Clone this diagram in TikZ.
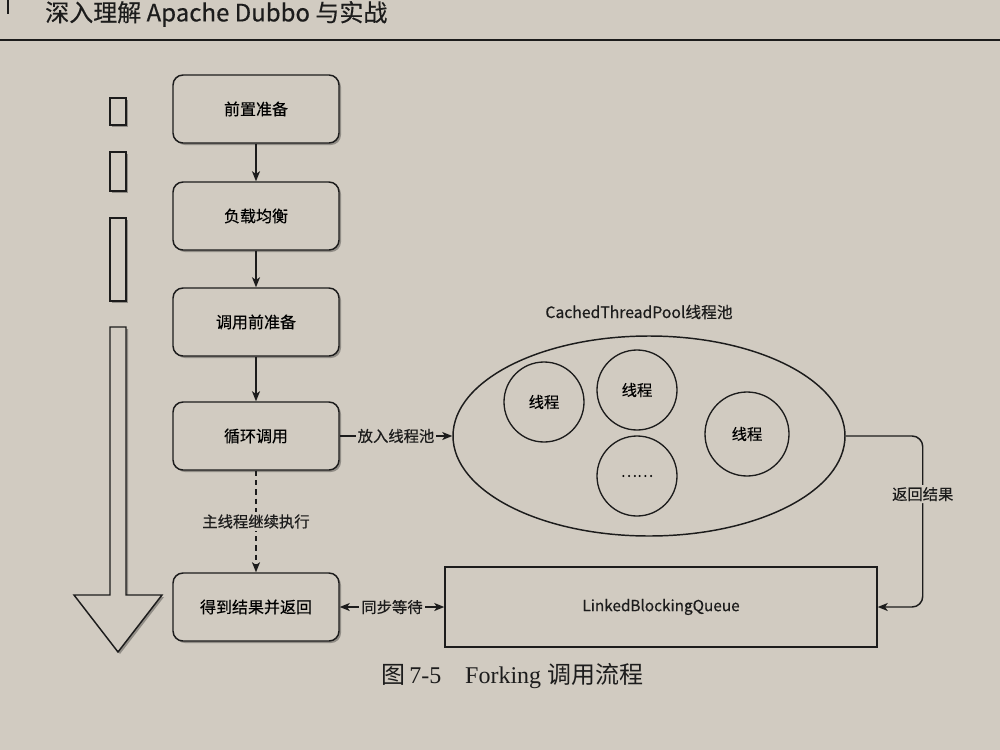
\documentclass[tikz,border=0pt]{standalone}
\usepackage{fontspec}
\setmainfont{Liberation Serif}
\newfontfamily\cjk[FakeBold=0.4]{Noto Sans CJK SC}
\newfontfamily\cjkcap{Noto Sans CJK SC}
\usetikzlibrary{arrows.meta,shapes.geometric,shadows}
\definecolor{paper}{RGB}{209,203,193}
\definecolor{ink}{RGB}{28,28,28}
\begin{document}
\begin{tikzpicture}[x=0.75pt,y=-0.75pt,
  boxshadow/.style={drop shadow={shadow xshift=1.5pt,shadow yshift=-1.5pt,opacity=0.3,fill=black}},
  stepbox/.style={draw=ink,line width=1.1pt,rounded corners=7.5pt,minimum width=124.5pt,minimum height=51pt,
    font=\cjk\fontsize{12}{14}\selectfont,fill=paper,boxshadow},
  thread/.style={draw=ink,line width=1pt,circle,minimum size=60pt,inner sep=0pt,font=\cjk\fontsize{11.5}{13}\selectfont},
  lbl/.style={fill=paper,inner sep=1.5pt,font=\cjk\fontsize{11.5}{13}\selectfont,text=ink},
  conn/.style={draw=ink,line width=1.1pt,-{Stealth[length=7.5pt,width=6pt,inset=2pt]}},
  leftshape/.style={draw=ink,line width=1.1pt,fill=paper,boxshadow},
]
\fill[paper] (0,0) rectangle (1000,750);
\useasboundingbox (0,0) rectangle (1000,750);

% page header
\draw[ink,line width=0.8pt] (8,0) -- (8,14);
\node[anchor=west,inner sep=0pt,font=\cjk\fontsize{18}{20}\selectfont,text=ink] (hdr) at (45,14) {深入理解 Apache Dubbo 与实战};
\draw[ink,line width=0.8pt] (0,40) -- (1000,40);

% left column
\draw[leftshape] (110,98) rectangle (126,125);
\draw[leftshape] (110,152) rectangle (126,191);
\draw[leftshape] (110,218) rectangle (126,301);
\draw[leftshape] (110,327) -- (126,327) -- (126,595) -- (162,595) -- (118,652) -- (74,595) -- (110,595) -- cycle;

% main flow
\node[stepbox] (b1) at (256,109) {前置准备};
\node[stepbox] (b2) at (256,216) {负载均衡};
\node[stepbox] (b3) at (256,322) {调用前准备};
\node[stepbox] (b4) at (256,436) {循环调用};
\node[stepbox] (b5) at (256,607) {得到结果并返回};

% thread pool
\node[font=\cjk\fontsize{11.8}{13}\selectfont,text=ink] (title) at (639,312) {CachedThreadPool线程池};
\node[draw=ink,line width=1.1pt,ellipse,minimum width=294pt,minimum height=150pt,inner sep=0pt] (pool) at (649,436) {};
\node[thread] (t1) at (544,402) {线程};
\node[thread] (t2) at (637,390) {线程};
\node[thread] (t3) at (637,476) {……};
\node[thread,minimum size=63pt] (t4) at (747,434) {线程};

% queue
\node[draw=ink,line width=1.1pt,minimum width=324pt,minimum height=60pt,font=\cjk\fontsize{11.5}{13}\selectfont,text=ink] (queue) at (661,607) {LinkedBlockingQueue};

% connectors
\draw[conn] (b1) -- (b2);
\draw[conn] (b2) -- (b3);
\draw[conn] (b3) -- (b4);
\draw[conn,dash pattern=on 4pt off 3pt] (b4) -- node[lbl]{主线程继续执行} (b5);
\draw[conn] (b4.east) -- node[lbl]{放入线程池} (pool.west);
\draw[conn,{Stealth[length=7.5pt,width=6pt,inset=2pt]}-{Stealth[length=7.5pt,width=6pt,inset=2pt]}] (b5.east) -- node[lbl]{同步等待} (queue.west);
\draw[conn,rounded corners=8pt] (pool.east) -- ++(77,0) |- node[lbl,pos=0.17]{返回结果} (queue.east);

% caption
\node[anchor=west,inner sep=0pt,font=\fontsize{18}{21}\selectfont,text=ink] (cap) at (381,676) {{\cjkcap 图}\,7-5\hspace{1em}Forking {\cjkcap 调用流程}};
\end{tikzpicture}
\end{document}
